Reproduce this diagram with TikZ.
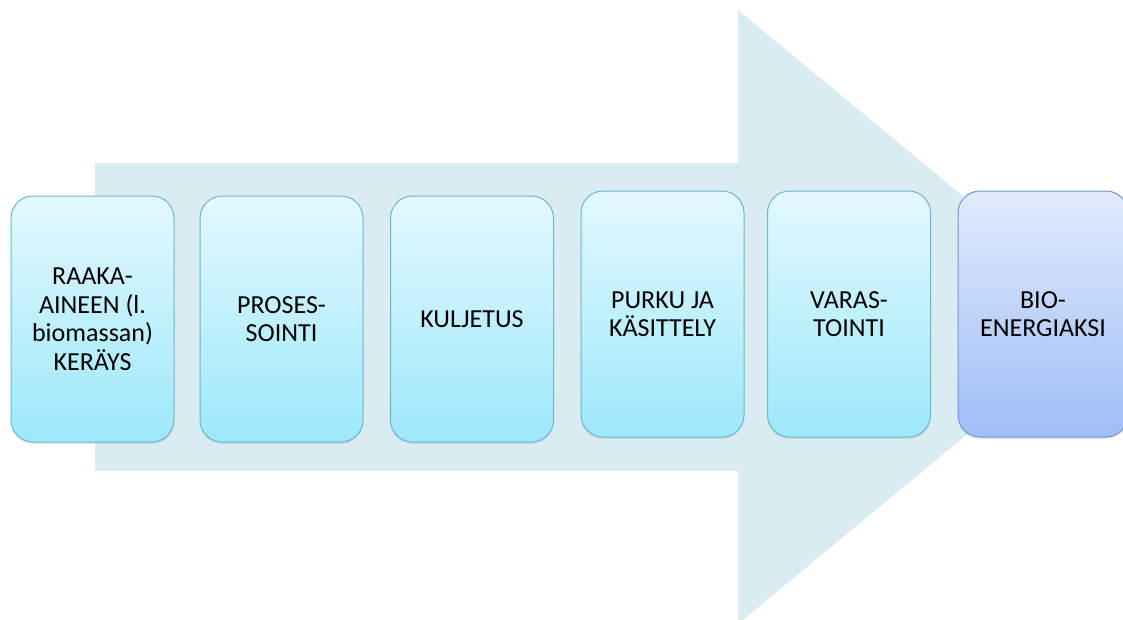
\documentclass[tikz,border=0pt]{standalone}
\usepackage{fontspec}
\setmainfont{Carlito}
\usetikzlibrary{shadows}
\definecolor{arrowfill}{HTML}{DAECF1}
\definecolor{stagetop}{HTML}{E3F8FE}
\definecolor{stagebottom}{HTML}{9DE8FB}
\definecolor{stageline}{HTML}{6AB8CD}
\definecolor{biotop}{HTML}{E2EAFC}
\definecolor{biobottom}{HTML}{9EBEF7}
\definecolor{bioline}{HTML}{7197D6}
\begin{document}
\begin{tikzpicture}[x=1pt, y=-1pt,
  stagebox/.style={draw=stageline, line width=1pt, rounded corners=22pt,
    top color=stagetop, bottom color=stagebottom,
    minimum width=163pt, minimum height=246pt, inner sep=2pt, align=center,
    font=\fontsize{26}{28.5}\selectfont,
    drop shadow={opacity=0.18, shadow xshift=0pt, shadow yshift=-2pt}}]
  \useasboundingbox (0,0) rectangle (1123,619);
  \clip (0,0) rectangle (1123,619);
  \fill[arrowfill] (95,163) -- (738,163) -- (738,10) -- (1109,317)
    -- (738,624) -- (738,471) -- (95,471) -- cycle;
  \foreach \name/\x/\y/\txt in {s1/92.5/319/{RAAKA-\\AINEEN (l.\\biomassan)\\KERÄYS},
      s2/281.5/319/{PROSES-\\SOINTI}, s3/472/319/{KULJETUS},
      s4/662.5/314/{PURKU JA\\KÄSITTELY}, s5/849/314/{VARAS-\\TOINTI}} {
    \node[stagebox] (\name) at (\x,\y) {\txt};
  }
  \node[stagebox, minimum width=170pt, draw=bioline, top color=biotop, bottom color=biobottom] (bio) at (1043,314) {BIO-\\ENERGIAKSI};
\end{tikzpicture}
\end{document}
